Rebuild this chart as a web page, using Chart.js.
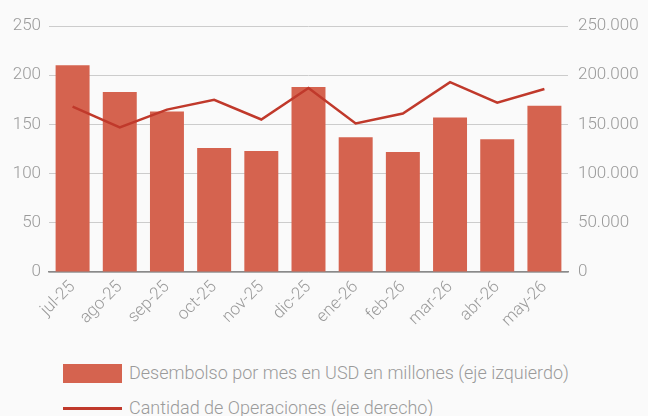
<!DOCTYPE html>
<html>
<head>
<meta charset="utf-8">
<script src="https://cdn.jsdelivr.net/npm/chart.js@4"></script>
<style>
  html, body { margin: 0; padding: 0; background: #fafafa; }
  #wrap { position: relative; width: 648px; height: 416px; overflow: hidden; font-family: Roboto, sans-serif; font-weight: 300; }
  #chartBox { position: absolute; left: 0; top: 0; width: 648px; height: 346px; }
  .leg { position: absolute; left: 63px; height: 20px; line-height: 20px; font-size: 18px; color: #9a9a9a; white-space: nowrap; }
  .leg .sw { position: absolute; left: 0; width: 59px; }
  .leg .tx { position: absolute; left: 66px; top: 0; }
</style>
</head>
<body>
<div id="wrap">
  <div id="chartBox"><canvas id="myChart"></canvas></div>
  <div id="legend"></div>
</div>
<script>
const months = ['jul-25', 'ago-25', 'sep-25', 'oct-25', 'nov-25', 'dic-25', 'ene-26', 'feb-26', 'mar-26', 'abr-26', 'may-26'];
const desembolso = [210, 183, 163, 126, 123, 188, 137, 122, 157, 135, 169];
const operaciones = [168000, 147000, 165000, 175000, 155000, 187000, 151000, 161000, 193000, 172000, 186000];
const leftTicks = [0, 50, 100, 150, 200, 250];
const rightTicks = [0, 50000, 100000, 150000, 200000, 250000];

const gray = '#9a9a9a';
const barColor = '#d5634f';
const lineColor = '#c0392b';
const fmt = v => String(v).replace(/\B(?=(\d{3})+(?!\d))/g, '.');
const tickFont = { family: 'Roboto', size: 17, weight: 300 };

const ctx = document.getElementById('myChart');

const chart = new Chart(ctx, {
  data: {
    labels: months,
    datasets: [{
      type: 'line',
      label: 'Cantidad de Operaciones (eje derecho)',
      data: operaciones,
      yAxisID: 'y2',
      borderColor: lineColor,
      backgroundColor: lineColor,
      borderWidth: 2.5,
      pointRadius: 0,
      tension: 0,
      order: 0
    }, {
      type: 'bar',
      label: 'Desembolso por mes en USD en millones (eje izquierdo)',
      data: desembolso,
      yAxisID: 'y',
      backgroundColor: barColor,
      categoryPercentage: 1,
      barPercentage: 0.72,
      order: 1
    }]
  },
  options: {
    responsive: true,
    maintainAspectRatio: false,
    animation: false,
    layout: { padding: { top: 26, right: 0, left: 0, bottom: 0 } },
    plugins: {
      tooltip: { enabled: false },
      legend: { display: false }
    },
    scales: {
      x: {
        afterFit: axis => { axis.height = 74; },
        grid: { display: false, drawTicks: false },
        border: { color: '#8a8a8a', width: 1.5 },
        ticks: {
          color: gray,
          font: tickFont,
          minRotation: 45,
          maxRotation: 45,
          padding: 5
        }
      },
      y: {
        position: 'left',
        min: 0,
        max: 250,
        afterBuildTicks: axis => { axis.ticks = leftTicks.map(v => ({ value: v })); },
        afterFit: axis => { axis.width = 49; },
        grid: { color: '#cccccc', drawTicks: false },
        border: { display: false },
        ticks: { color: gray, font: tickFont, padding: 8 }
      },
      y2: {
        position: 'right',
        min: 0,
        max: 250000,
        afterBuildTicks: axis => { axis.ticks = rightTicks.map(v => ({ value: v })); },
        afterFit: axis => { axis.width = 80; },
        grid: { display: false, drawTicks: false },
        border: { display: false },
        ticks: { color: gray, font: tickFont, padding: 10, callback: v => fmt(v) }
      }
    }
  }
});

// legend below the chart, bar first then line
const legend = document.getElementById('legend');
const items = [
  { ds: chart.data.datasets[1], top: 363, sw: 'top:1px;height:19px;background:' + barColor },
  { ds: chart.data.datasets[0], top: 398, sw: 'top:9px;height:2.5px;background:' + lineColor }
];
items.forEach(it => {
  const row = document.createElement('div');
  row.className = 'leg';
  row.style.top = it.top + 'px';
  row.innerHTML = '<span class="sw" style="' + it.sw + '"></span><span class="tx">' + it.ds.label + '</span>';
  legend.appendChild(row);
});
</script>
</body>
</html>
